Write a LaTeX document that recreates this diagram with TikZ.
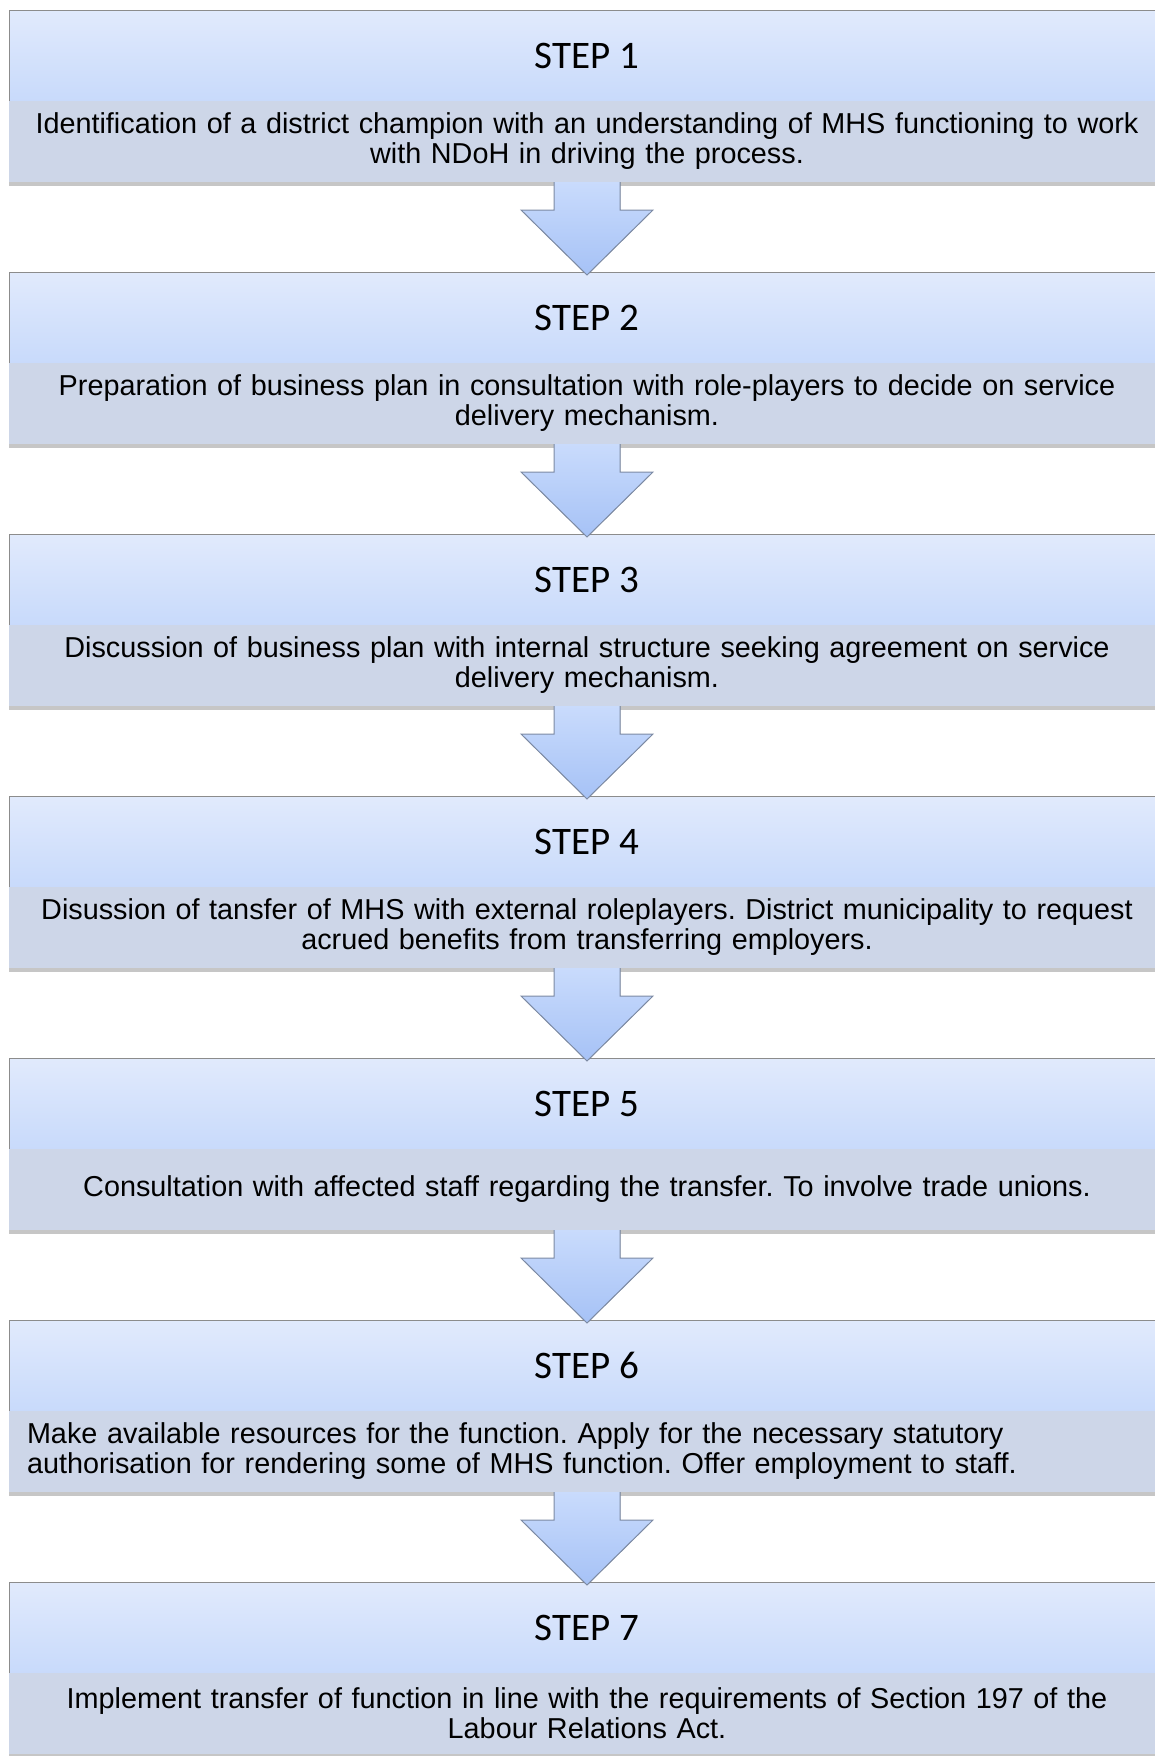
\documentclass[tikz,border=0pt]{standalone}
\usepackage{fontspec}
\setmainfont{Liberation Sans}
\newfontfamily\stepfont{Carlito}
\usetikzlibrary{positioning,shadows}
\frenchspacing

\definecolor{kopfoben}{HTML}{E1EAFC}
\definecolor{kopfunten}{HTML}{C8DAFB}
\definecolor{inhaltfarbe}{HTML}{CDD6E8}
\definecolor{rahmen}{HTML}{8C8C8C}
\definecolor{pfeiloben}{HTML}{C9DBFC}
\definecolor{pfeilunten}{HTML}{A6C2F6}
\definecolor{pfeilrahmen}{HTML}{7C8AA3}

\begin{document}
\begin{tikzpicture}[
	kopf/.style={rectangle, draw=rahmen, line width=0.5pt, top color=kopfoben, bottom color=kopfunten,
		minimum width=578pt, minimum height=45.5pt, inner sep=0pt, outer sep=0pt,
		text centered, anchor=north, font=\stepfont\fontsize{19.5pt}{21pt}\selectfont},
	inhalt/.style={rectangle, draw=none, fill=inhaltfarbe,
		drop shadow={shadow xshift=0pt, shadow yshift=-2pt, opacity=0.45},
		minimum width=578pt, minimum height=40.5pt, inner sep=0pt, outer sep=0pt,
		text width=570pt, align=center, font=\fontsize{14.4pt}{15pt}\selectfont},
	pfeil/.style={draw=pfeilrahmen, line width=0.5pt, top color=pfeiloben, bottom color=pfeilunten},
	node distance=0pt
	]
	\useasboundingbox (0,0) rectangle (577.5pt,-878pt);
	% Schritte
	\node (s1) [kopf] at (293.5pt,-5pt) {STEP 1};
	\node (d1) [inhalt, below=of s1] {Identification of a district champion with an understanding of MHS functioning to work\\
		with NDoH in driving the process.};
	\node (s2) [kopf, below=45pt of d1] {STEP 2};
	\node (d2) [inhalt, below=of s2] {Preparation of business plan in consultation with role-players to decide on service\\
		delivery mechanism.};
	\node (s3) [kopf, below=45pt of d2] {STEP 3};
	\node (d3) [inhalt, below=of s3] {Discussion of business plan with internal structure seeking agreement on service\\
		delivery mechanism.};
	\node (s4) [kopf, below=45pt of d3] {STEP 4};
	\node (d4) [inhalt, below=of s4] {Disussion of tansfer of MHS with external roleplayers. District municipality to request\\
		acrued benefits from transferring employers.};
	\node (s5) [kopf, below=45pt of d4] {STEP 5};
	\node (d5) [inhalt, below=of s5] {Consultation with affected staff regarding the transfer. To involve trade unions.};
	\node (s6) [kopf, below=45pt of d5] {STEP 6};
	\node (d6) [inhalt, below=of s6, text width=560pt, align=left] {Make available resources for the function. Apply for the necessary statutory\\
		authorisation for rendering some of MHS function. Offer employment to staff.};
	\node (s7) [kopf, below=45pt of d6] {STEP 7};
	\node (d7) [inhalt, below=of s7] {Implement transfer of function in line with the requirements of Section 197 of the\\
		Labour Relations Act.};
	% Pfeile
	\filldraw[pfeil] ([xshift=-16.5pt]d1.south) -- ++(0,-14pt) -- ++(-16.5pt,0) -- ([yshift=-1.5pt]s2.north)
		-- ([xshift=33pt,yshift=-14pt]d1.south) -- ++(-16.5pt,0) -- ([xshift=16.5pt]d1.south);
	\filldraw[pfeil] ([xshift=-16.5pt]d2.south) -- ++(0,-14pt) -- ++(-16.5pt,0) -- ([yshift=-1.5pt]s3.north)
		-- ([xshift=33pt,yshift=-14pt]d2.south) -- ++(-16.5pt,0) -- ([xshift=16.5pt]d2.south);
	\filldraw[pfeil] ([xshift=-16.5pt]d3.south) -- ++(0,-14pt) -- ++(-16.5pt,0) -- ([yshift=-1.5pt]s4.north)
		-- ([xshift=33pt,yshift=-14pt]d3.south) -- ++(-16.5pt,0) -- ([xshift=16.5pt]d3.south);
	\filldraw[pfeil] ([xshift=-16.5pt]d4.south) -- ++(0,-14pt) -- ++(-16.5pt,0) -- ([yshift=-1.5pt]s5.north)
		-- ([xshift=33pt,yshift=-14pt]d4.south) -- ++(-16.5pt,0) -- ([xshift=16.5pt]d4.south);
	\filldraw[pfeil] ([xshift=-16.5pt]d5.south) -- ++(0,-14pt) -- ++(-16.5pt,0) -- ([yshift=-1.5pt]s6.north)
		-- ([xshift=33pt,yshift=-14pt]d5.south) -- ++(-16.5pt,0) -- ([xshift=16.5pt]d5.south);
	\filldraw[pfeil] ([xshift=-16.5pt]d6.south) -- ++(0,-14pt) -- ++(-16.5pt,0) -- ([yshift=-1.5pt]s7.north)
		-- ([xshift=33pt,yshift=-14pt]d6.south) -- ++(-16.5pt,0) -- ([xshift=16.5pt]d6.south);
\end{tikzpicture}
\end{document}
